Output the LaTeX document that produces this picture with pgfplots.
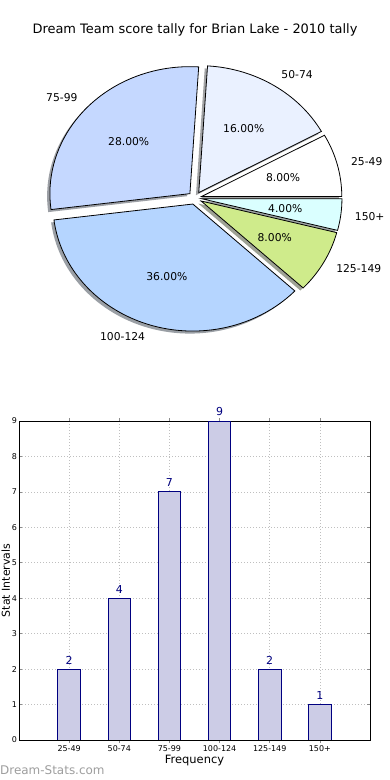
\documentclass[border=0pt]{standalone}
\usepackage{pgfplots}
\usepackage{pgfplotstable}
\pgfplotsset{compat=1.18}
\pgfplotsset{/pgf/number format/assume math mode=true}
\usepackage{fontspec}
\setmainfont{DejaVu Sans}

\pgfplotstableread{
label value
25-49 2
50-74 4
75-99 7
100-124 9
125-149 2
150+ 1
}\scoredata

\definecolor{c0}{RGB}{255,255,255}
\definecolor{c1}{RGB}{234,241,255}
\definecolor{c2}{RGB}{197,216,255}
\definecolor{c3}{RGB}{181,213,255}
\definecolor{c4}{RGB}{207,235,139}
\definecolor{c5}{RGB}{218,255,255}
\definecolor{barfill}{RGB}{204,204,230}
\definecolor{navyc}{RGB}{0,0,128}
\definecolor{wm}{RGB}{158,158,158}

\def\rx{140bp}
\def\ry{127bp}

\begin{document}
% --- precompute pie angles from the table ---
\gdef\total{0}%
\foreach \i in {0,...,5}{%
  \pgfplotstablegetelem{\i}{value}\of\scoredata
  \pgfmathsetmacro\t{\total+\pgfplotsretval}%
  \xdef\total{\t}}%
\gdef\cum{0}%
\foreach \i in {0,...,5}{%
  \pgfplotstablegetelem{\i}{value}\of\scoredata
  \pgfmathsetmacro\a{\cum}%
  \pgfmathsetmacro\b{\cum+360*\pgfplotsretval/\total}%
  \pgfmathsetmacro\p{100*\pgfplotsretval/\total}%
  \expandafter\xdef\csname pa\i\endcsname{\a}%
  \expandafter\xdef\csname pb\i\endcsname{\b}%
  \expandafter\xdef\csname pp\i\endcsname{\p}%
  \pgfplotstablegetelem{\i}{label}\of\scoredata
  \expandafter\xdef\csname pl\i\endcsname{\pgfplotsretval}%
  \xdef\cum{\b}}%
\begin{tikzpicture}
\clip (0,0) rectangle (390bp,780bp);
\fill[white] (0,0) rectangle (390bp,780bp);
% title
\node[font=\fontsize{13}{15}\selectfont] at (195bp,750bp) {Dream Team score tally for Brian Lake - 2010 tally};

% ---------- pie ----------
\begin{axis}[
  at={(195bp,582bp)}, anchor=origin,
  x=140bp, y=127bp,
  xmin=-1.4, xmax=1.4, ymin=-1.25, ymax=1.25,
  hide axis, clip=false,
]
\addplot[draw=none] coordinates {(0,0)};
\pgfplotsextra{
  % shadows
  \foreach \i in {0,...,5}{
    \edef\a{\csname pa\i\endcsname}\edef\b{\csname pb\i\endcsname}
    \pgfmathsetmacro\m{(\a+\b)/2}
    \pgfmathsetmacro\ox{0.05*cos(\m)-0.02}
    \pgfmathsetmacro\oy{0.05*sin(\m)-0.02}
    \fill[fill=c\i!30!black, fill opacity=0.5]
      (axis cs:\ox,\oy) -- ++(\a:\rx\space and \ry) arc[start angle=\a, end angle=\b, x radius=\rx, y radius=\ry] -- cycle;
  }
  % wedges
  \foreach \i in {0,...,5}{
    \edef\a{\csname pa\i\endcsname}\edef\b{\csname pb\i\endcsname}
    \pgfmathsetmacro\m{(\a+\b)/2}
    \pgfmathsetmacro\ox{0.05*cos(\m)}
    \pgfmathsetmacro\oy{0.05*sin(\m)}
    \filldraw[fill=c\i, draw=black, line width=0.8bp, line join=miter]
      (axis cs:\ox,\oy) -- ++(\a:\rx\space and \ry) arc[start angle=\a, end angle=\b, x radius=\rx, y radius=\ry] -- cycle;
  }
  % labels
  \foreach \i in {0,...,5}{
    \edef\a{\csname pa\i\endcsname}\edef\b{\csname pb\i\endcsname}
    \pgfmathsetmacro\m{(\a+\b)/2}
    \pgfmathsetmacro\ox{0.05*cos(\m)}
    \pgfmathsetmacro\oy{0.05*sin(\m)}
    \pgfmathsetmacro\lx{\ox+1.1*cos(\m)}
    \pgfmathsetmacro\ly{\oy+1.1*sin(\m)}
    \pgfmathsetmacro\qx{\ox+0.6*cos(\m)}
    \pgfmathsetmacro\qy{\oy+0.6*sin(\m)}
    \ifdim\lx pt>0pt \def\anc{west}\else\def\anc{east}\fi
    \node[anchor=\anc, inner sep=0pt, font=\fontsize{10.8}{12}\selectfont] at (axis cs:\lx,\ly) {\csname pl\i\endcsname};
    \node[inner sep=0pt, font=\fontsize{10.8}{12}\selectfont] at (axis cs:\qx,\qy) {\pgfmathprintnumber[fixed,fixed zerofill,precision=2,assume math mode=true]{\csname pp\i\endcsname}\%};
  }
}
\end{axis}

% ---------- bars ----------
\begin{axis}[
  at={(19bp,40bp)}, anchor=south west,
  scale only axis, width=351bp, height=319bp,
  xmin=-1, xmax=6, ymin=0, ymax=9,
  xtick={0,...,5},
  xticklabels from table={\scoredata}{label},
  ytick={0,...,9},
  grid=major,
  grid style={black!25, line width=0.7bp, dash pattern=on 1bp off 2bp},
  tick align=inside, major tick length=3bp,
  tick style={black!45, line width=0.6bp},
  axis line style={black, line width=0.8bp},
  x tick label style={font=\fontsize{8}{9}\selectfont, yshift=1bp},
  y tick label style={font=\fontsize{8}{9}\selectfont, xshift=1.5bp},
  xlabel={Frequency},
  xlabel style={font=\fontsize{11.5}{13}\selectfont, at={(axis description cs:0.5,-0.063)}, anchor=center},
  ylabel={Stat Intervals},
  ylabel style={font=\fontsize{11}{13}\selectfont, inner sep=0pt, at={(axis description cs:-0.038,0.5)}, anchor=center},
  ybar, bar width=22.5bp,
  nodes near coords,
  nodes near coords style={navyc, font=\fontsize{11}{12}\selectfont, inner sep=0pt, anchor=south, yshift=4.5bp},
]
\addplot[fill=barfill, draw=navyc, line width=0.8bp]
  table[x expr=\coordindex, y=value]{\scoredata};
\end{axis}

\node[anchor=west, inner sep=0pt, text=wm, font=\fontsize{12}{14}\selectfont] at (0bp,10bp) {Dream-Stats.com};
\end{tikzpicture}
\end{document}
